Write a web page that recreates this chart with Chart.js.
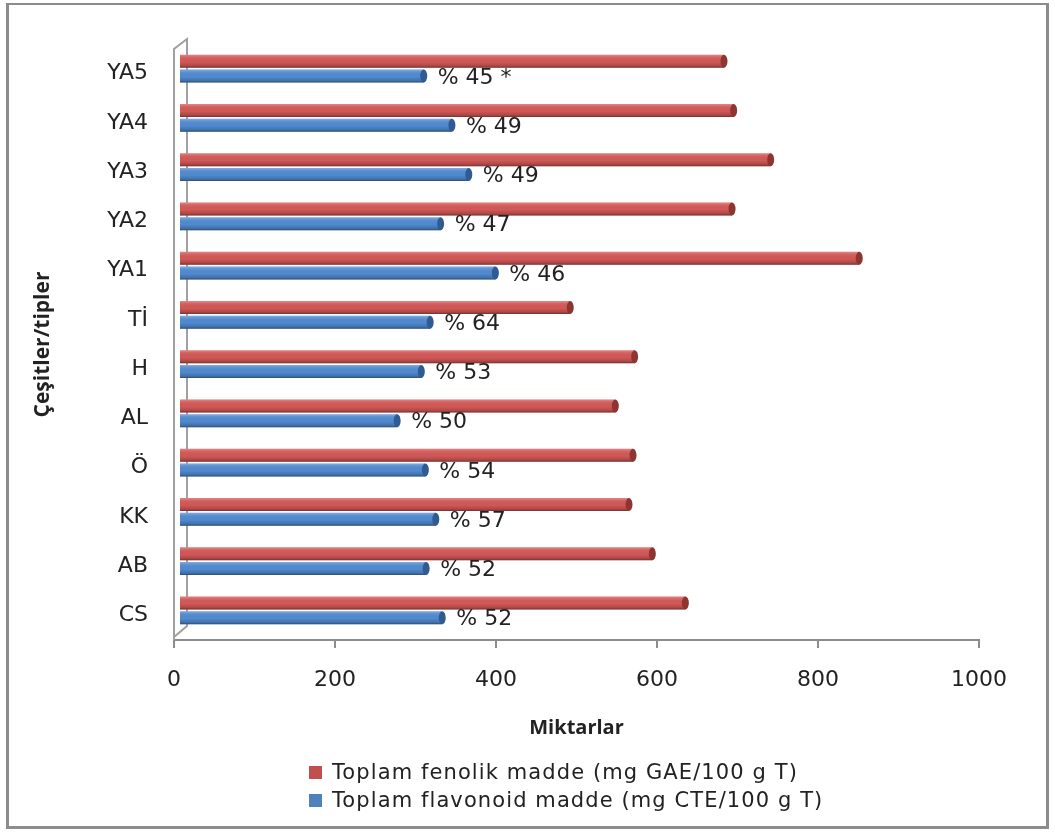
<!DOCTYPE html>
<html>
<head>
<meta charset="utf-8">
<script src="https://cdn.jsdelivr.net/npm/chart.js@4"></script>
<style>
  html, body { margin: 0; padding: 0; background: #fff; }
  #wrap   { position: relative; width: 1055px; height: 832px; overflow: hidden; }
  #frame  { position: absolute; left: 6px; top: 3px; width: 1043px; height: 826px;
            border: 3px solid #8c8c8c; border-top-width: 2px; box-sizing: border-box; }
  #chart  { position: absolute; left: 0; top: 0; }
  #legend { position: absolute; left: 309px; top: 758px; font: 21px 'DejaVu Sans', sans-serif;
            letter-spacing: 1.1px; color: #222; }
  .leg    { display: flex; align-items: center; height: 28px; white-space: nowrap; }
  .leg-box{ width: 13px; height: 13px; margin-right: 10px; }
</style>
</head>
<body>
<div id="wrap">
  <div id="frame"></div>
  <canvas id="chart" width="1055" height="832"></canvas>
  <div id="legend"></div>
</div>
<script>
const categories   = ['YA5', 'YA4', 'YA3', 'YA2', 'YA1', 'Tİ', 'H', 'AL', 'Ö', 'KK', 'AB', 'CS'];
const phenolic     = [677, 689, 735, 687, 845, 486, 566, 542, 564, 559, 588, 629];
const flavonoid    = [304, 339, 360, 325, 393, 312, 301, 271, 306, 319, 307, 327];
const ratioLabels  = ['% 45 *', '% 49', '% 49', '% 47', '% 46', '% 64', '% 53', '% 50', '% 54', '% 57', '% 52', '% 52'];
const xTicks       = [0, 200, 400, 600, 800, 1000];
const seriesNames  = ['Toplam fenolik madde (mg GAE/100 g T)', 'Toplam flavonoid madde (mg CTE/100 g T)'];
const seriesColors = ['#C0504D', '#4F81BD'];
const barFills     = ['#d25856', '#508ad0'];
const capFills     = ['#8e3532', '#2f5b92'];

const FONT   = "'DejaVu Sans', sans-serif";
const TITLE  = "'Open Sans', sans-serif";
const INK    = '#222';
const AXIS   = '#8c8c8c';

// wall depth and the half-depth the bars sit at
const WALL_DX = 13, WALL_DY = -10;
const BAR_DX  = 5,  BAR_DY  = -5;

// ── Fake 3D: side wall outline, shifted bars, cylinder shading, ratio labels ──
const depth3d = {
  id: 'depth3d',
  beforeDatasetsDraw(chart) {
    const { ctx, chartArea: a } = chart;
    ctx.save();
    ctx.strokeStyle = '#a0a0a0';
    ctx.lineWidth = 2;
    ctx.beginPath();
    ctx.moveTo(a.left, a.bottom);
    ctx.lineTo(a.left, a.top);
    ctx.lineTo(a.left + WALL_DX, a.top + WALL_DY);
    ctx.lineTo(a.left + WALL_DX, a.bottom + WALL_DY - 4);
    ctx.lineTo(a.left, a.bottom - 3);
    ctx.stroke();
    ctx.restore();

    ctx.save();
    ctx.translate(BAR_DX, BAR_DY);
  },
  afterDatasetsDraw(chart) {
    const { ctx } = chart;
    chart.data.datasets.forEach((ds, di) => {
      const meta = chart.getDatasetMeta(di);
      meta.data.forEach((el, i) => {
        const { x, y, base, height } = el.getProps(['x', 'y', 'base', 'height'], true);
        const l = Math.min(x, base), r = Math.max(x, base), t = y - height / 2;

        const g = ctx.createLinearGradient(0, t, 0, t + height);
        g.addColorStop(0,    'rgba(255,255,255,0.30)');
        g.addColorStop(0.18, 'rgba(255,255,255,0.08)');
        g.addColorStop(0.55, 'rgba(0,0,0,0)');
        g.addColorStop(0.85, 'rgba(0,0,0,0.18)');
        g.addColorStop(1,    'rgba(0,0,0,0.45)');
        ctx.fillStyle = g;
        ctx.fillRect(l, t, r - l, height);

        // rounded end cap
        ctx.beginPath();
        ctx.ellipse(r, y, 3.5, height / 2, 0, 0, Math.PI * 2);
        ctx.fillStyle = capFills[di];
        ctx.fill();

        if (di === 1) {
          ctx.font = '22px ' + FONT;
          ctx.fillStyle = INK;
          ctx.textBaseline = 'middle';
          ctx.textAlign = 'left';
          ctx.fillText(ratioLabels[i], r + 14, y + 2);
        }
      });
    });
    ctx.restore();
  }
};

const chart = new Chart(document.getElementById('chart'), {
  type: 'bar',
  data: {
    labels: categories,
    datasets: [
      { label: seriesNames[0], data: phenolic,  backgroundColor: barFills[0] },
      { label: seriesNames[1], data: flavonoid, backgroundColor: barFills[1] },
    ]
  },
  options: {
    indexAxis: 'y',
    responsive: false, animation: false,
    categoryPercentage: 0.6, barPercentage: 0.88,
    layout: { padding: { left: 30, right: 76, top: 49, bottom: 92 } },
    plugins: { legend: { display: false }, tooltip: { enabled: false } },
    scales: {
      x: {
        min: 0, max: 1000,
        afterBuildTicks: s => { s.ticks = xTicks.map(v => ({ value: v })); },
        afterFit: s => { s.height = 100; },
        grid:   { drawOnChartArea: false, drawTicks: true, tickLength: 8, color: AXIS, lineWidth: 2 },
        border: { display: true, color: AXIS, width: 2 },
        ticks:  { font: { family: FONT, size: 22 }, color: INK, padding: 19, maxRotation: 0,
                  callback: v => String(v) },
        title:  { display: true, text: 'Miktarlar', color: INK, padding: 0,
                  font: { family: TITLE, size: 20, weight: 'bold' } }
      },
      y: {
        afterFit: s => { s.width = 144; },
        grid:   { display: false },
        border: { display: false },
        ticks:  { font: { family: FONT, size: 22 }, color: INK, padding: 18 },
        title:  { display: true, text: 'Çeşitler/tipler', color: INK, padding: 0,
                  font: { family: TITLE, size: 21, weight: 'bold' } }
      }
    }
  },
  plugins: [depth3d]
});

// Legend
document.getElementById('legend').innerHTML = chart.data.datasets.map((ds, i) =>
  `<div class="leg">
    <div class="leg-box" style="background:${seriesColors[i]}"></div>
    ${ds.label}
  </div>`).join('');
</script>
</body>
</html>
